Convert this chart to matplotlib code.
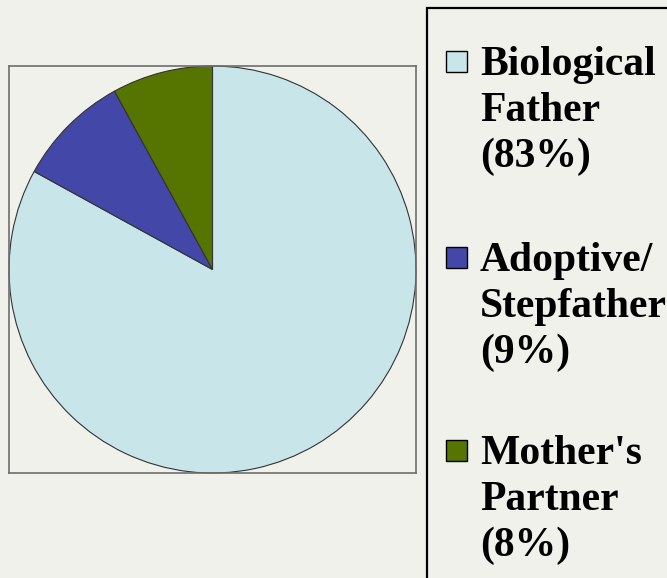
import matplotlib
matplotlib.use("Agg")
import matplotlib.pyplot as plt
from matplotlib.patches import Rectangle

categories = ["Biological\nFather\n(83%)", "Adoptive/\nStepfather\n(9%)", "Mother's\nPartner\n(8%)"]
values = [83, 9, 8]
colors = ["#c8e6ea", "#4348a8", "#557400"]

W, H = 667, 578
bg = "#f1f1ec"
fig = plt.figure(figsize=(W/100, H/100), dpi=100, facecolor=bg)

# pie axes box (pixels)
L, R, T, B = 9, 416, 66, 473
ax = fig.add_axes([L/W, (H-B)/H, (R-L)/W, (B-T)/H])
ax.set_facecolor(bg)
ax.pie(values, colors=colors, startangle=90, counterclock=False, radius=1,
       wedgeprops=dict(edgecolor="#333333", linewidth=0.8))
ax.set_xlim(-1, 1)
ax.set_ylim(-1, 1)
ax.set_xticks([]); ax.set_yticks([])
ax.set_frame_on(True)
for s in ax.spines.values():
    s.set_visible(True)
    s.set_edgecolor("#6e6e6e")
    s.set_linewidth(1.2)

# legend box
fig.patches.append(Rectangle((427/W, -0.05), 0.5, (H-8)/H + 0.05, transform=fig.transFigure,
                             facecolor=bg, edgecolor="black", linewidth=1.6))

centers = [62, 258, 451]
font = dict(family="Liberation Serif", weight="bold", size=30)
for lab, col, cy in zip(categories, colors, centers):
    fig.patches.append(Rectangle((446/W, (H-cy-10)/H), 21/W, 21/H, transform=fig.transFigure,
                                 facecolor=col, edgecolor="black", linewidth=1.0))
    for i, line in enumerate(lab.split("\n")):
        fig.text(480/W, (H-(cy+13+i*46))/H, line, va="baseline", ha="left", color="black", **font)

fig.savefig("out.png", dpi=100, facecolor=bg)
